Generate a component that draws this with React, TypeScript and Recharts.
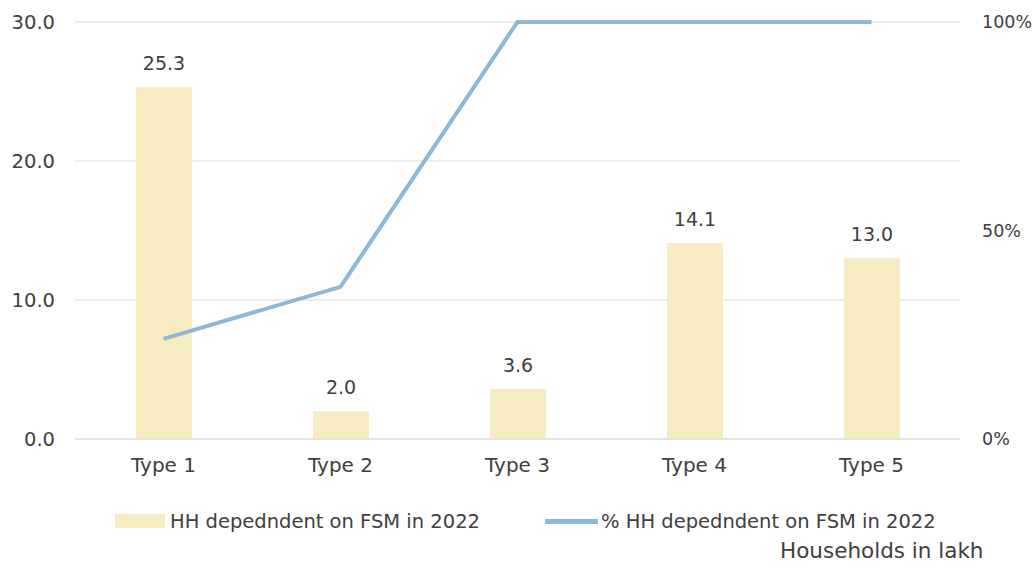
import { ComposedChart, Bar, Line, XAxis, YAxis, CartesianGrid, LabelList } from 'recharts';

const categories = ['Type 1', 'Type 2', 'Type 3', 'Type 4', 'Type 5'];
const hhDependent = [25.3, 2.0, 3.6, 14.1, 13.0];
const pctDependent = [24, 36.5, 100, 100, 100];
const leftTicks = [0, 10, 20, 30];
const rightTicks = [0, 50, 100];

const BAR_COLOR = '#f7ebc2';
const LINE_COLOR = '#8fb7d6';
const TEXT = '#404040';
const FONT = '"DejaVu Sans", Verdana, sans-serif';

const data = categories.map((c, i) => ({ name: c, hh: hhDependent[i], pct: pctDependent[i] }));

function ChartLegend() {
  const row = { position: 'absolute' as const, top: 508, height: 26, display: 'flex', alignItems: 'center', fontSize: 19.5, whiteSpace: 'nowrap' as const };
  return (
    <div style={{ fontFamily: FONT, color: TEXT }}>
      <div style={{ ...row, left: 115 }}>
        <span style={{ display: 'inline-block', width: 50, height: 14, background: BAR_COLOR, marginRight: 5 }} />
        <span>HH depedndent on FSM in 2022</span>
      </div>
      <div style={{ ...row, left: 545 }}>
        <span style={{ display: 'inline-block', width: 53, height: 5, background: LINE_COLOR, marginRight: 3 }} />
        <span>% HH depedndent on FSM in 2022</span>
      </div>
      <div style={{ position: 'absolute', left: 780, top: 538, height: 26, lineHeight: '26px', fontSize: 21.5, whiteSpace: 'nowrap' }}>
        Households in lakh
      </div>
    </div>
  );
}

export default function App() {
  return (
    <div style={{ position: 'absolute', left: 0, top: 0, width: 1033, height: 568, background: '#fff' }}>
      <ComposedChart
        width={1033}
        height={568}
        data={data}
        margin={{ top: 22, right: 0, bottom: 89, left: 0 }}
      >
        <CartesianGrid vertical={false} stroke="#d9d9d9" yAxisId="left" />
        <XAxis
          dataKey="name"
          axisLine={{ stroke: '#d9d9d9' }}
          tickLine={false}
          tickSize={0}
          tickMargin={19}
          height={40}
          tick={{ fill: TEXT, fontSize: 20, fontFamily: FONT }}
        />
        <YAxis
          yAxisId="left"
          orientation="left"
          domain={[0, 30]}
          ticks={leftTicks}
          tickFormatter={(v) => Number(v).toFixed(1)}
          axisLine={false}
          tickLine={false}
          tickSize={0}
          tickMargin={20}
          width={75}
          tick={{ fill: TEXT, fontSize: 19.5, fontFamily: FONT }}
        />
        <YAxis
          yAxisId="right"
          orientation="right"
          domain={[0, 100]}
          ticks={rightTicks}
          tickFormatter={(v) => `${v}%`}
          axisLine={false}
          tickLine={false}
          tickSize={0}
          tickMargin={22}
          width={73}
          tick={{ fill: TEXT, fontSize: 17.5, fontFamily: FONT, textAnchor: 'start' }}
        />
        <Bar yAxisId="left" dataKey="hh" fill={BAR_COLOR} barSize={56} isAnimationActive={false}>
          <LabelList
            dataKey="hh"
            position="top"
            offset={17}
            formatter={(v: any) => Number(v).toFixed(1)}
            style={{ fill: TEXT, fontSize: 19, fontFamily: FONT }}
          />
        </Bar>
        <Line
          yAxisId="right"
          dataKey="pct"
          stroke={LINE_COLOR}
          strokeWidth={4}
          dot={false}
          activeDot={false}
          isAnimationActive={false}
        />
      </ComposedChart>
      <ChartLegend />
    </div>
  );
}
